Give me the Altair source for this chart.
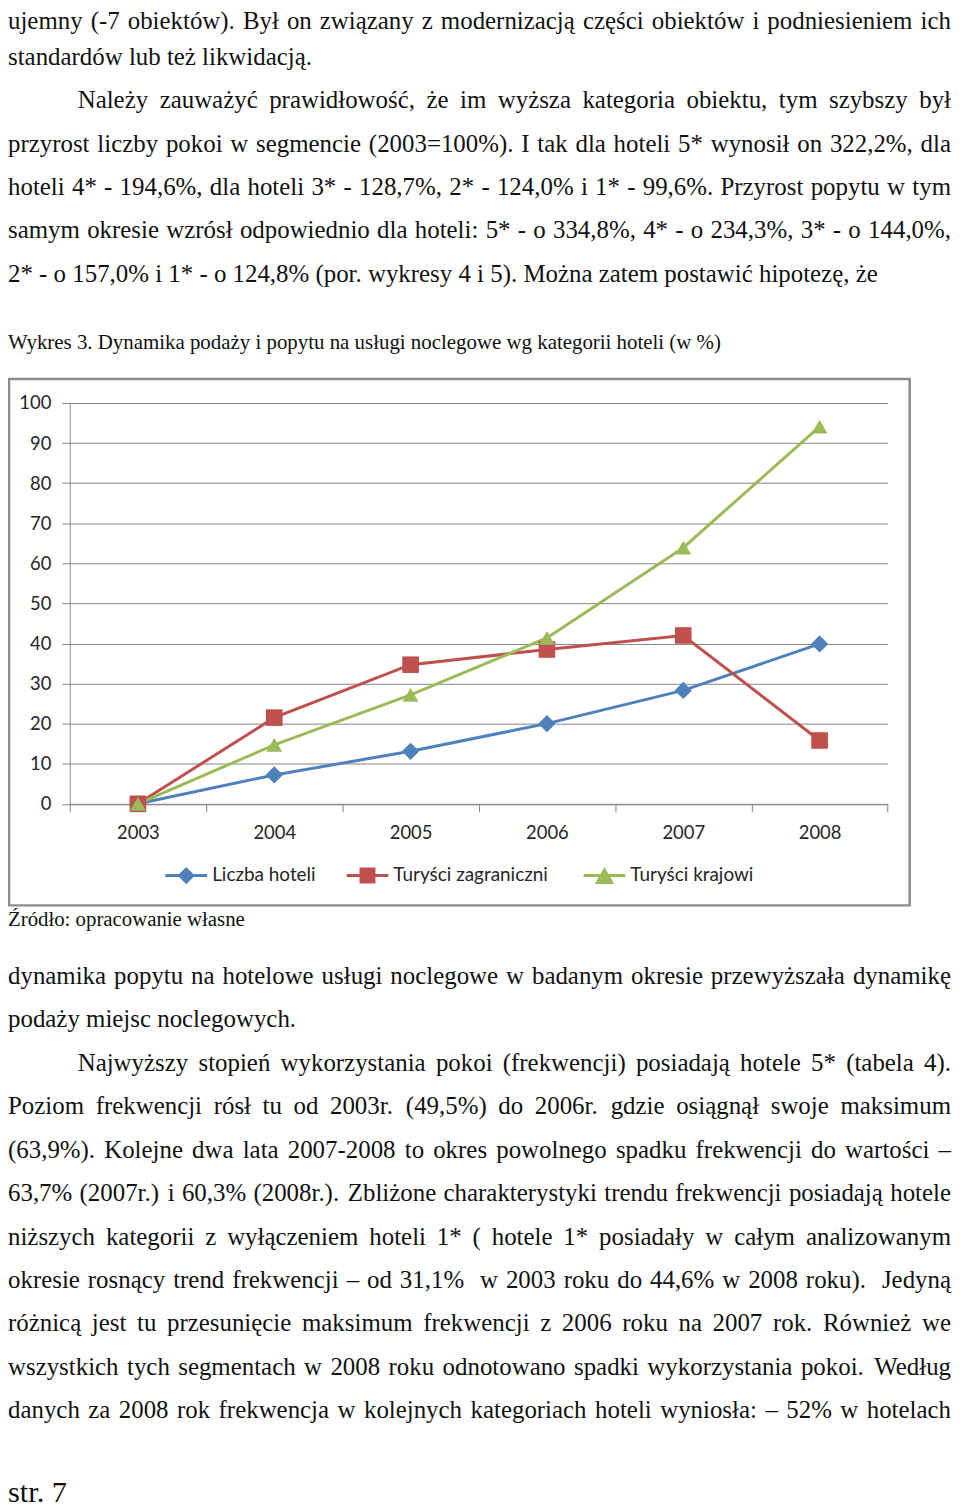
import altair as alt
import pandas as pd

# ---------------- chart data ----------------
years = ["2003", "2004", "2005", "2006", "2007", "2008"]
series_names = ["Liczba hoteli", "Turyści zagraniczni", "Turyści krajowi"]
liczba_hoteli = [0.0, 7.2, 13.1, 20.0, 28.3, 39.9]
turysci_zagraniczni = [0.0, 21.5, 34.7, 38.5, 42.0, 15.8]
turysci_krajowi = [0.0, 14.7, 27.2, 41.4, 63.9, 94.1]
y_tick_values = [0, 10, 20, 30, 40, 50, 60, 70, 80, 90, 100]

# ---------------- page text ----------------
top_lines = [
    "ujemny (-7 obiektów). Był on związany z modernizacją części obiektów i podniesieniem ich",
    "standardów lub też likwidacją.",
    "Należy zauważyć prawidłowość, że im wyższa kategoria obiektu, tym szybszy był",
    "przyrost liczby pokoi w segmencie (2003=100%). I tak dla hoteli 5* wynosił on 322,2%, dla",
    "hoteli 4* - 194,6%, dla hoteli 3* - 128,7%, 2* - 124,0% i 1* - 99,6%. Przyrost popytu w tym",
    "samym okresie wzrósł odpowiednio dla hoteli: 5* - o 334,8%, 4* - o 234,3%, 3* - o 144,0%,",
    "2* - o 157,0% i 1* - o 124,8% (por. wykresy 4 i 5). Można zatem postawić hipotezę, że",
]
top_justified = [True, False, True, True, True, True, False]
top_indent = [False, False, True, False, False, False, False]

caption = "Wykres 3. Dynamika podaży i popytu na usługi noclegowe wg kategorii hoteli (w %)"
source = "Źródło: opracowanie własne"

bottom_lines = [
    "dynamika popytu na hotelowe usługi noclegowe w badanym okresie przewyższała dynamikę",
    "podaży miejsc noclegowych.",
    "Najwyższy stopień wykorzystania pokoi (frekwencji) posiadają hotele 5* (tabela 4).",
    "Poziom frekwencji rósł tu od 2003r. (49,5%) do 2006r. gdzie osiągnął swoje maksimum",
    "(63,9%). Kolejne dwa lata 2007-2008 to okres powolnego spadku frekwencji do wartości –",
    "63,7% (2007r.) i 60,3% (2008r.). Zbliżone charakterystyki trendu frekwencji posiadają hotele",
    "niższych kategorii z wyłączeniem hoteli 1* ( hotele 1* posiadały w całym analizowanym",
    "okresie rosnący trend frekwencji – od 31,1%  w 2003 roku do 44,6% w 2008 roku).  Jedyną",
    "różnicą jest tu przesunięcie maksimum frekwencji z 2006 roku na 2007 rok. Również we",
    "wszystkich tych segmentach w 2008 roku odnotowano spadki wykorzystania pokoi. Według",
    "danych za 2008 rok frekwencja w kolejnych kategoriach hoteli wyniosła: – 52% w hotelach",
]
bottom_justified = [True, False, True, True, True, True, True, True, True, True, True]
bottom_indent = [False, False, True, False, False, False, False, False, False, False, False]

page_number = "str. 7"

# ---------------- styles / layout ----------------
series_colors = ["#4F81BD", "#C0504D", "#9BBB59"]
series_shapes = ["diamond", "square", "triangle-up"]
series_sizes = [300, 256, 380]
grid_color = "#868686"
label_color = "#262626"
chart_font = "Lato"
body_font = "Liberation Serif"

PX0, PY0 = 70.0, 401.5          # page position of the plot area's top-left corner
VW, VH = 821.5, 402.5            # plot area size
TOTAL_W, TOTAL_H = 948, 1500
pad = {"left": PX0 - 8, "top": PY0 - 8,
       "right": TOTAL_W - (PX0 - 8) - VW, "bottom": TOTAL_H - (PY0 - 8) - VH}


def vx(px):
    return px - PX0


def vy(py):
    return py - PY0


# Times / Liberation Serif advance widths (per 1000 em)
TNR = {' ': 250, '!': 333, '"': 408, '#': 500, '$': 500, '%': 833, '&': 778, "'": 180,
       '(': 333, ')': 333, '*': 500, '+': 564, ',': 250, '-': 333, '.': 250, '/': 278,
       ':': 278, ';': 278, '<': 564, '=': 564, '>': 564, '?': 444, '@': 921, '–': 500,
       'A': 722, 'B': 667, 'C': 667, 'D': 722, 'E': 611, 'F': 556, 'G': 722, 'H': 722,
       'I': 333, 'J': 389, 'K': 722, 'L': 611, 'M': 889, 'N': 722, 'O': 722, 'P': 556,
       'Q': 722, 'R': 667, 'S': 556, 'T': 611, 'U': 722, 'V': 722, 'W': 944, 'X': 722,
       'Y': 722, 'Z': 611,
       'a': 444, 'b': 500, 'c': 444, 'd': 500, 'e': 444, 'f': 333, 'g': 500, 'h': 500,
       'i': 278, 'j': 278, 'k': 500, 'l': 278, 'm': 778, 'n': 500, 'o': 500, 'p': 500,
       'q': 500, 'r': 333, 's': 389, 't': 278, 'u': 500, 'v': 500, 'w': 722, 'x': 500,
       'y': 500, 'z': 444}
for d in "0123456789":
    TNR[d] = 500
PL = {'ą': 'a', 'ć': 'c', 'ę': 'e', 'ł': 'l', 'ń': 'n', 'ó': 'o', 'ś': 's', 'ź': 'z', 'ż': 'z',
      'Ą': 'A', 'Ć': 'C', 'Ę': 'E', 'Ł': 'L', 'Ń': 'N', 'Ó': 'O', 'Ś': 'S', 'Ź': 'Z', 'Ż': 'Z'}


def tw(s):
    return sum(TNR.get(PL.get(c, c), 500) for c in s) / 1000.0


BODY_FS = 25.0
X_LEFT, X_INDENT, X_RIGHT = 8.0, 78.0, 955.0

rows_left, rows_right = [], []


def add_line(text, x0, x1, base, fs, justify):
    if not justify:
        rows_left.append(dict(t=text, x=vx(x0), y=vy(base), fs=fs))
        return
    tokens = text.split(' ')
    widths = [tw(t) * fs for t in tokens]
    gap = (x1 - x0 - sum(widths)) / (len(tokens) - 1)
    gap = max(gap, 0.12 * fs)
    x = x0
    for i, (t, w) in enumerate(zip(tokens, widths)):
        if t:
            if i == len(tokens) - 1:
                rows_right.append(dict(t=t, x=vx(x1), y=vy(base), fs=fs))
            else:
                rows_left.append(dict(t=t, x=vx(x), y=vy(base), fs=fs))
        x += w + gap


top_baselines = [26.0] + [18.5 + 43.5 * i for i in range(1, len(top_lines))]
for i, line in enumerate(top_lines):
    add_line(line, X_INDENT if top_indent[i] else X_LEFT, X_RIGHT,
             top_baselines[i], BODY_FS, top_justified[i])
for i, line in enumerate(bottom_lines):
    add_line(line, X_INDENT if bottom_indent[i] else X_LEFT, X_RIGHT,
             985.0 + 43.6 * i, BODY_FS, bottom_justified[i])
add_line(caption, X_LEFT, 0, 347.0, 718.0 / tw(caption), False)
add_line(source, X_LEFT, 0, 926.5, 238.0 / tw(source), False)
add_line(page_number, X_LEFT, 0, 1505.0, 61.0 / tw(page_number), False)

# ---------------- chart ----------------
values_by_series = [liczba_hoteli, turysci_zagraniczni, turysci_krajowi]
df = pd.DataFrame([
    {"year": y, "series": s, "value": v}
    for s, vals in zip(series_names, values_by_series)
    for y, v in zip(years, vals)
])

axis_common = dict(title=None, domainColor=grid_color, tickColor=grid_color,
                   domainWidth=1, tickWidth=1, tickSize=8,
                   labelFont=chart_font, labelFontSize=18.5, labelColor=label_color)

x_enc = alt.X("year:O", sort=years, bandPosition=0.5,
              scale=alt.Scale(type="band", domain=years, paddingInner=0, paddingOuter=0),
              axis=alt.Axis(tickBand="extent", labelAngle=0, grid=False,
                            labelPadding=12, **axis_common))
y_enc = alt.Y("value:Q", scale=alt.Scale(domain=[0, 100], nice=False),
              axis=alt.Axis(values=y_tick_values, grid=True, gridColor=grid_color,
                            gridWidth=1, labelPadding=11, **axis_common))
color_enc = alt.Color("series:N", scale=alt.Scale(domain=series_names, range=series_colors),
                      legend=None)

lines = alt.Chart(df).mark_line(strokeWidth=3).encode(x=x_enc, y=y_enc, color=color_enc)
points = alt.Chart(df).mark_point(filled=True, opacity=1, strokeWidth=0).encode(
    x=x_enc, y=y_enc, color=color_enc,
    shape=alt.Shape("series:N", scale=alt.Scale(domain=series_names, range=series_shapes),
                    legend=None),
    size=alt.Size("series:O", scale=alt.Scale(domain=series_names, range=series_sizes),
                  legend=None),
)
main = alt.layer(lines, points)

# frame around the chart (stroke only, so the axes behind stay visible)
frame = alt.Chart(pd.DataFrame({"k": [0]})).mark_rect(
    fill="#ffffff", fillOpacity=0, stroke="#8c8c8c", strokeWidth=2.5
).encode(x=alt.value(vx(9)), x2=alt.value(vx(913.5)),
         y=alt.value(vy(377.5)), y2=alt.value(vy(906)))

# legend (drawn by hand, positions derived from layout constants)
legend_line_start = [166.0, 348.0, 586.0]
legend_df = pd.DataFrame({
    "series": series_names,
    "col": series_colors,
    "shp": series_shapes,
    "sz": series_sizes,
    "x0": [vx(p) for p in legend_line_start],
    "x1": [vx(p + 42) for p in legend_line_start],
    "xm": [vx(p + 21) for p in legend_line_start],
    "xt": [vx(p + 47) for p in legend_line_start],
    "y": [vy(876)] * 3,
})
leg_rule = alt.Chart(legend_df).mark_rule(strokeWidth=3).encode(
    x=alt.X("x0:Q", scale=None, axis=None), x2="x1:Q",
    y=alt.Y("y:Q", scale=None, axis=None), color=alt.Color("col:N", scale=None))
leg_pt = alt.Chart(legend_df).mark_point(filled=True, opacity=1, strokeWidth=0).encode(
    x=alt.X("xm:Q", scale=None, axis=None), y=alt.Y("y:Q", scale=None, axis=None),
    color=alt.Color("col:N", scale=None), shape=alt.Shape("shp:N", scale=None),
    size=alt.Size("sz:Q", scale=None))
leg_txt = alt.Chart(legend_df).mark_text(
    align="left", baseline="middle", font=chart_font, fontSize=19, color=label_color
).encode(x=alt.X("xt:Q", scale=None, axis=None), y=alt.Y("y:Q", scale=None, axis=None),
         text="series:N")

# page text
words_left = alt.Chart(pd.DataFrame(rows_left)).mark_text(
    align="left", baseline="alphabetic", font=body_font, color="#111111"
).encode(x=alt.X("x:Q", scale=None, axis=None), y=alt.Y("y:Q", scale=None, axis=None),
         text="t:N", size=alt.Size("fs:Q", scale=None))
words_right = alt.Chart(pd.DataFrame(rows_right)).mark_text(
    align="right", baseline="alphabetic", font=body_font, color="#111111"
).encode(x=alt.X("x:Q", scale=None, axis=None), y=alt.Y("y:Q", scale=None, axis=None),
         text="t:N", size=alt.Size("fs:Q", scale=None))

chart = alt.layer(
    main, frame, leg_rule, leg_pt, leg_txt, words_left, words_right
).resolve_scale(
    x="independent", y="independent", color="independent", size="independent",
    shape="independent"
).properties(
    width=VW, height=VH, padding=pad, autosize=alt.AutoSizeParams(type="none"),
    background="#ffffff"
).configure_view(stroke=None)

chart.save("out.html", embed_options={"renderer": "svg", "actions": False})
